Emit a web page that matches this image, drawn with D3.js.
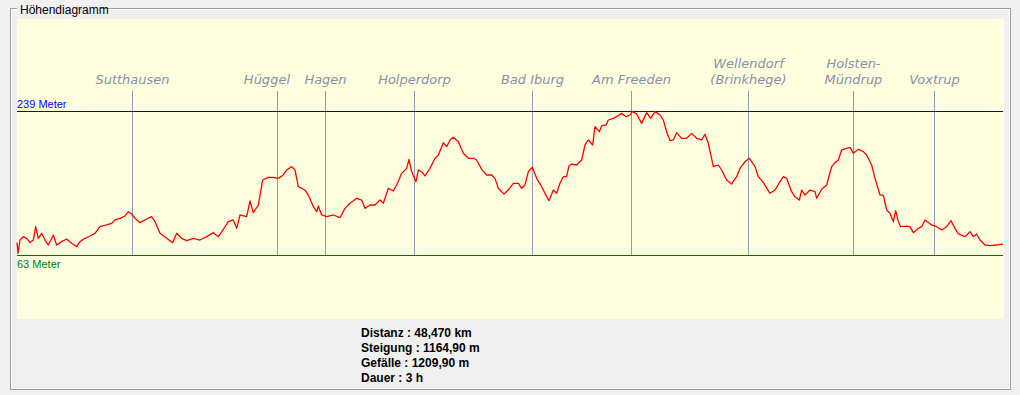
<!DOCTYPE html>
<html>
<head>
<meta charset="utf-8">
<script src="https://cdn.jsdelivr.net/npm/d3@7"></script>
<style>
  body { margin: 0; background: #f0f0f0; }
  svg { display: block; }
</style>
</head>
<body>
<svg id="chart" width="1020" height="395"></svg>
<script>
// elevation profile (km along route, metres)
var distKm = [0.00, 0.05, 0.147, 0.311, 0.475, 0.639, 0.803, 0.918, 1.048, 1.212, 1.376, 1.540, 1.786, 1.950, 2.196, 2.441, 2.687, 2.933, 3.097, 3.343, 3.588, 3.834, 4.080, 4.408, 4.653, 4.817, 5.063, 5.309, 5.473, 5.637, 5.800, 6.046, 6.374, 6.620, 6.784, 7.029, 7.357, 7.652, 7.849, 8.095, 8.341, 8.668, 8.996, 9.324, 9.651, 9.897, 10.143, 10.389, 10.634, 10.798, 10.962, 11.290, 11.454,
  11.618, 11.864, 12.077, 12.355, 12.601, 12.847, 13.093, 13.256, 13.502, 13.666, 13.830, 14.158, 14.322, 14.567, 14.731, 14.813, 14.977, 15.223, 15.551, 15.878, 16.124, 16.370, 16.698, 16.943, 17.107, 17.353, 17.599, 17.845, 18.008, 18.254, 18.500, 18.664, 18.910, 19.155, 19.270, 19.401, 19.614, 19.729, 19.893, 20.057, 20.302, 20.548, 20.712, 20.958, 21.122, 21.286, 21.449, 21.695, 21.941, 22.187, 22.433, 22.596, 22.842, 23.088, 23.334, 23.498, 23.661,
  23.940, 24.153, 24.398, 24.644, 24.808, 24.972, 25.136, 25.332, 25.546, 25.791, 26.037, 26.152, 26.365, 26.529, 26.692, 26.856, 27.020, 27.135, 27.266, 27.512, 27.758, 27.921, 28.085, 28.298, 28.413, 28.626, 28.741, 28.954, 29.068, 29.314, 29.478, 29.724, 29.937, 30.133, 30.248, 30.461, 30.707, 30.953, 31.149, 31.362, 31.608, 31.772, 31.936, 32.100, 32.264, 32.428, 32.673, 32.919, 33.165, 33.411, 33.656, 33.820, 33.984, 34.230, 34.476, 34.640, 34.885, 35.131, 35.377, 35.541, 35.787, 36.000, 36.279,
  36.443, 36.688, 37.016, 37.262, 37.508, 37.672, 37.835, 38.081, 38.245, 38.458, 38.573, 38.737, 38.982, 39.228, 39.310, 39.556, 39.802, 40.048, 40.211, 40.375, 40.539, 40.785, 40.949, 41.113, 41.358, 41.604, 41.768, 42.014, 42.178, 42.424, 42.587, 42.751, 42.915, 43.079, 43.194, 43.325, 43.439, 43.734, 43.898, 44.062, 44.308, 44.472, 44.636, 44.963, 45.209, 45.455, 45.701, 45.914, 46.110, 46.274, 46.602, 46.848, 47.012, 47.176, 47.339, 47.585, 47.831, 48.159, 48.405, 48.470];

var elevM = [78.1, 65.0, 81.3, 85.4, 83.4, 78.1, 81.3, 97.6, 83.4, 89.5, 81.3, 75.2, 87.4, 75.2, 79.3, 82.6, 77.3, 73.2, 79.3, 83.4, 86.2, 89.5, 97.6, 99.7, 101.7, 105.8, 107.8, 110.7, 115.9, 113.1, 107.8, 102.5, 107.0, 109.9, 103.7, 89.5, 83.4, 78.1, 89.5, 83.4, 80.5, 83.4, 81.3, 85.4, 90.3, 85.4, 94.4, 103.7, 105.8, 95.6, 111.9, 109.9, 129.0,
  114.8, 124.1, 154.7, 157.9, 157.9, 156.7, 160.8, 166.9, 171.0, 166.9, 146.5, 142.4, 136.3, 122.1, 115.9, 122.9, 111.9, 109.9, 111.9, 108.6, 120.0, 126.2, 132.3, 130.2, 120.0, 124.1, 124.1, 130.2, 126.2, 144.5, 141.2, 148.6, 162.8, 168.9, 179.9, 164.8, 152.6, 166.9, 164.8, 159.6, 168.9, 181.2, 185.2, 200.3, 195.4, 203.6, 206.8, 201.5, 187.3, 181.2, 181.2, 179.1, 167.7, 160.8, 160.8, 156.7, 144.5,
  137.6, 142.4, 150.6, 150.6, 144.5, 148.6, 164.8, 170.2, 156.7, 146.5, 134.3, 129.4, 142.4, 138.4, 150.6, 158.7, 158.7, 171.8, 174.2, 173.0, 179.1, 197.5, 203.6, 197.5, 219.9, 213.7, 220.7, 221.9, 228.0, 230.0, 232.1, 236.1, 232.1, 234.1, 238.6, 235.3, 223.9, 237.0, 230.0, 238.2, 234.1, 228.0, 213.7, 202.7, 203.6, 212.5, 205.6, 205.6, 211.7, 205.6, 203.6, 210.5, 199.5, 170.9, 173.0, 166.9, 154.7, 149.8, 158.7, 168.9, 177.1, 181.2, 171.0,
  158.7, 151.4, 138.4, 142.4, 152.6, 158.7, 156.7, 140.4, 134.3, 130.2, 142.4, 136.3, 142.4, 140.4, 132.3, 143.3, 148.6, 171.0, 175.9, 179.1, 191.3, 193.4, 194.6, 187.3, 192.2, 189.3, 185.2, 173.0, 156.7, 136.3, 136.3, 118.0, 113.9, 103.7, 117.2, 103.7, 97.6, 98.4, 97.6, 90.3, 95.6, 97.6, 105.8, 99.7, 97.6, 93.6, 97.6, 105.0, 95.6, 88.7, 85.4, 91.5, 85.4, 88.7, 81.3, 75.2, 74.4, 75.2, 76.4, 76.4];

var placeNames = [["Sutthausen"], ["Hüggel"], ["Hagen"], ["Holperdorp"], ["Bad Iburg"], ["Am Freeden"],
  ["Wellendorf", "(Brinkhege)"], ["Holsten-", "Mündrup"], ["Voxtrup"]];
var placeKm = [5.65, 12.80, 15.16, 19.53, 25.33, 30.20, 35.95, 41.11, 45.09];

var elevMax = 239, elevMin = 63;
var statLines = ["Distanz : 48,470 km", "Steigung : 1164,90 m", "Gefälle : 1209,90 m", "Dauer : 3 h"];

var svg = d3.select("#chart");
var uiFont = "'Liberation Sans', Arial, sans-serif";

// group box
svg.append("rect").attr("x", 10.5).attr("y", 8.5).attr("width", 1000).attr("height", 381)
  .attr("fill", "none").attr("stroke", "#a0a0a0");
svg.append("rect").attr("x", 11.5).attr("y", 9.5).attr("width", 998).attr("height", 379)
  .attr("fill", "none").attr("stroke", "#ffffff");
svg.append("rect").attr("x", 17).attr("y", 2).attr("width", 84).attr("height", 14).attr("fill", "#f0f0f0");
svg.append("text").attr("x", 20).attr("y", 13.5).attr("font-family", uiFont).attr("font-size", 12)
  .attr("fill", "#000").text("Höhendiagramm");

// plot background
svg.append("rect").attr("x", 17).attr("y", 19).attr("width", 987).attr("height", 300).attr("fill", "#ffffe0");

var x = d3.scaleLinear().domain([0, 48.47]).range([17, 1003]);
var y = d3.scaleLinear().domain([elevMin, elevMax]).range([255, 111]);

// waypoints
var places = svg.append("g");
var labelGroups = [];
placeKm.forEach(function(km, i) {
  var px = Math.round(x(km)) + 0.5;
  places.append("line").attr("x1", px).attr("x2", px).attr("y1", 91).attr("y2", y(elevMin))
    .attr("stroke", "#939bb0").attr("stroke-width", 1);
  var g = places.append("g");
  var lines = placeNames[i];
  lines.forEach(function(t, j) {
    g.append("text")
      .attr("x", px).attr("y", 84 - (lines.length - 1 - j) * 16)
      .attr("text-anchor", "middle")
      .attr("font-family", "'DejaVu Sans', Verdana, sans-serif")
      .attr("font-style", "italic").attr("font-size", 13)
      .attr("fill", "#8890a8").text(t);
  });
  labelGroups.push(g);
});

// push a label left when it runs into the next one
for (var i = labelGroups.length - 2; i >= 0; i--) {
  var a = labelGroups[i].node().getBBox();
  var b = labelGroups[i + 1].node().getBBox();
  var overlap = a.x + a.width + 14 - b.x;
  if (overlap > 0) labelGroups[i].attr("transform", "translate(" + (-overlap) + ",0)");
}

// min / max lines
svg.append("line").attr("x1", 17).attr("x2", 1003).attr("y1", Math.round(y(elevMax)) + 0.5).attr("y2", Math.round(y(elevMax)) + 0.5)
  .attr("stroke", "#0000c0");
svg.append("line").attr("x1", 17).attr("x2", 1003).attr("y1", Math.round(y(elevMin)) + 0.5).attr("y2", Math.round(y(elevMin)) + 0.5)
  .attr("stroke", "#007000");
svg.append("text").attr("x", 17).attr("y", y(elevMax) - 3).attr("font-family", uiFont).attr("font-size", 11)
  .attr("fill", "#0000ff").text(elevMax + " Meter");
svg.append("text").attr("x", 17).attr("y", y(elevMin) + 13).attr("font-family", uiFont).attr("font-size", 11)
  .attr("fill", "#008000").text(elevMin + " Meter");

// profile
var pts = distKm.map(function(d, i) { return [d, elevM[i]]; });
var line = d3.line().x(function(d) { return x(d[0]); }).y(function(d) { return y(d[1]); });
svg.append("path").datum(pts).attr("d", line).attr("fill", "none")
  .attr("stroke", "#ff0000").attr("stroke-width", 1.3).attr("stroke-linejoin", "round");

// stats
svg.selectAll("text.stat").data(statLines).enter().append("text")
  .attr("class", "stat")
  .attr("x", 361).attr("y", function(d, i) { return 337 + i * 15; })
  .attr("font-family", uiFont).attr("font-weight", "bold").attr("font-size", 12)
  .attr("fill", "#000").text(function(d) { return d; });
</script>
</body>
</html>
